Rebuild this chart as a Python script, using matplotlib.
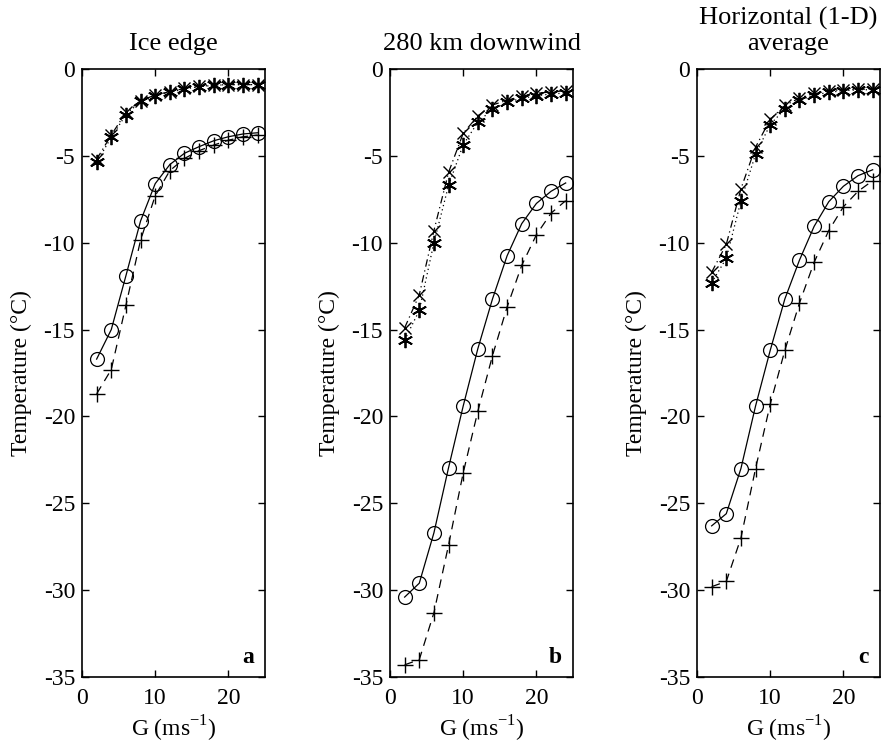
import numpy as np
import matplotlib
matplotlib.use("Agg")
import matplotlib.pyplot as plt

plt.rcParams["font.family"] = ["Liberation Serif", "DejaVu Serif"]
plt.rcParams["axes.unicode_minus"] = False

wind = [2, 4, 6, 8, 10, 12, 14, 16, 18, 20, 22, 24]

titles = ["Ice edge", "280 km downwind", "Horizontal (1-D)\naverage"]
letters = ["a", "b", "c"]

# series per panel: circles (solid), plus (dashed), cross (dash-dot), asterisk (dotted)
circ = [
    [-16.7, -15.0, -11.9, -8.75, -6.6, -5.5, -4.85, -4.47, -4.13, -3.9, -3.74, -3.67],
    [-30.4, -29.6, -26.7, -22.95, -19.4, -16.1, -13.24, -10.75, -8.9, -7.74, -7.04, -6.56],
    [-26.3, -25.6, -23.0, -19.4, -16.2, -13.24, -11.0, -9.06, -7.64, -6.75, -6.14, -5.8],
]
plus = [
    [-18.7, -17.3, -13.6, -9.85, -7.3, -5.85, -5.15, -4.7, -4.38, -4.1, -3.9, -3.8],
    [-34.3, -34.0, -31.3, -27.4, -23.25, -19.7, -16.5, -13.7, -11.3, -9.54, -8.3, -7.58],
    [-29.8, -29.5, -27.0, -23.0, -19.3, -16.2, -13.47, -11.13, -9.3, -7.93, -7.04, -6.43],
]
cross = [
    [-5.2, -3.8, -2.5, -1.82, -1.5, -1.3, -1.12, -1.0, -0.93, -0.9, -0.9, -0.9],
    [-14.9, -13.0, -9.3, -5.95, -3.7, -2.7, -2.07, -1.8, -1.57, -1.4, -1.32, -1.25],
    [-11.7, -10.1, -6.9, -4.5, -2.9, -2.1, -1.67, -1.4, -1.25, -1.19, -1.17, -1.15],
]
star = [
    [-5.37, -3.93, -2.63, -1.86, -1.54, -1.34, -1.15, -1.02, -0.94, -0.9, -0.9, -0.9],
    [-15.6, -13.9, -10.0, -6.7, -4.36, -3.07, -2.3, -1.92, -1.69, -1.54, -1.44, -1.38],
    [-12.3, -10.9, -7.6, -4.9, -3.2, -2.3, -1.8, -1.5, -1.34, -1.25, -1.2, -1.19],
]

fig = plt.figure(figsize=(8.88, 7.44), dpi=100)
lefts = [82, 390, 697]
fs = 17

for i in range(3):
    ax = fig.add_axes([lefts[i] / 888, 67 / 744, 183 / 888, 608 / 744])
    lw = 0.9
    ax.plot(wind, circ[i], "-", color="k", lw=lw, marker="o", mfc="none",
            ms=10, mew=0.9)
    ax.plot(wind, plus[i], color="k", lw=lw, ls=(0, (7, 5)), marker="+",
            ms=11, mew=1.0)
    ax.plot(wind, cross[i], color="k", lw=lw, ls=(0, (6, 3, 1, 3)), marker="x",
            ms=9, mew=1.0)
    ax.plot(wind, star[i], color="k", lw=lw, ls=(0, (1, 2.5)), marker=(6, 2, 0),
            ms=11, mew=1.3)

    ax.set_xlim(0, 25)
    ax.set_ylim(-35, 0)
    ax.set_xticks([0, 10, 20])
    ax.set_yticks(np.arange(-35, 1, 5))
    ax.tick_params(direction="in", length=5, width=1, top=True, right=True,
                   labelsize=fs)
    ax.tick_params(axis="x", pad=8)
    ax.tick_params(axis="y", pad=5)
    for s in ax.spines.values():
        s.set_linewidth(1.2)
    ax.set_xlabel("G (ms$^{\\mathregular{-1}}$)", fontsize=fs, labelpad=3)
    ax.set_ylabel("Temperature (°C)", fontsize=fs, labelpad=8)
    ax.set_title(titles[i], fontsize=19, pad=14, linespacing=1.15)
    ax.text(0.94, 0.015, letters[i], transform=ax.transAxes, ha="right",
            va="bottom", fontsize=fs, fontweight="bold")

fig.savefig("out.png", dpi=100)
